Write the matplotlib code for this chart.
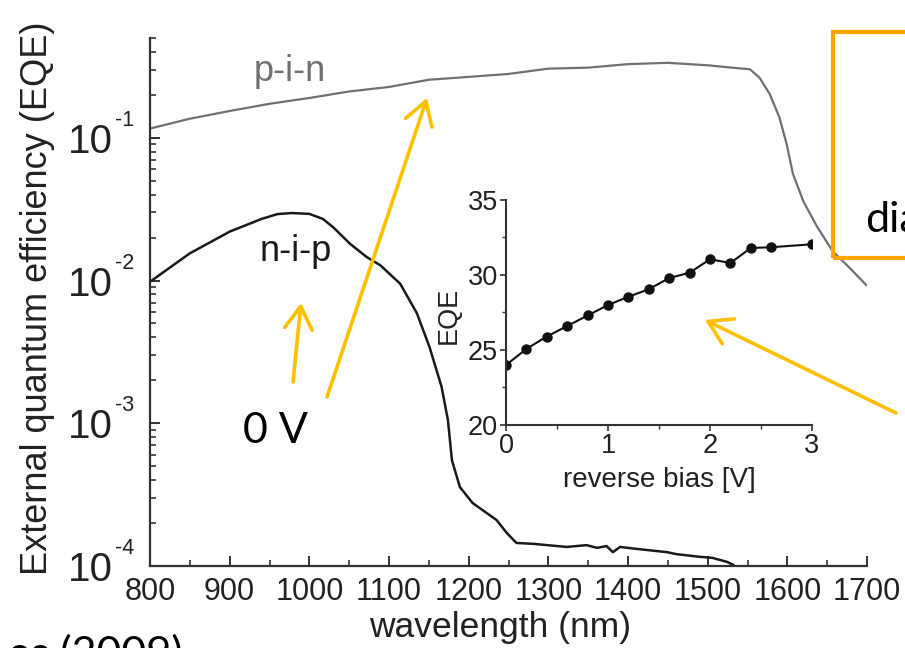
import numpy as np
import matplotlib
matplotlib.use('Agg')
import matplotlib.pyplot as plt
from matplotlib.patches import Rectangle, FancyArrowPatch
from matplotlib.ticker import LogLocator, NullFormatter, MultipleLocator, FixedLocator

# ---------------- data ----------------
pin_nm = [800, 850, 900, 950, 1000, 1050, 1100, 1150, 1200, 1250, 1300, 1350, 1400,
          1450, 1500, 1530, 1553, 1565, 1578, 1590, 1599, 1607, 1620, 1637, 1657, 1678, 1699]
pin_eqe = [0.116, 0.136, 0.154, 0.173, 0.19, 0.211, 0.227, 0.255, 0.267, 0.28, 0.305,
           0.31, 0.328, 0.335, 0.322, 0.31, 0.302, 0.264, 0.202, 0.139, 0.091, 0.056, 0.036,
           0.024, 0.016, 0.0123, 0.0093]

nip_nm = [800, 850, 900, 940, 960, 978, 1000, 1017, 1030, 1051, 1072, 1089, 1114, 1135,
          1151, 1166, 1174, 1179, 1189, 1205, 1235, 1248, 1260, 1281, 1323, 1348, 1361,
          1373, 1381, 1390, 1415, 1449, 1461, 1490, 1506, 1524, 1532]
nip_eqe = [0.0098, 0.0155, 0.022, 0.027, 0.0292, 0.0297, 0.0293, 0.027, 0.0236, 0.0181,
           0.0146, 0.0128, 0.0095, 0.0059, 0.0034, 0.0018, 0.00105, 0.00055, 0.000357,
           0.000276, 0.00021, 0.00017, 0.000145, 0.000143, 0.000136, 0.00014, 0.000134,
           0.000138, 0.000125, 0.000136, 0.000131, 0.000125, 0.000121, 0.000116, 0.000114,
           0.000107, 0.000102]

bias_v = [0.0, 0.2, 0.4, 0.6, 0.8, 1.0, 1.2, 1.4, 1.6, 1.8, 2.0, 2.2, 2.4, 2.6, 3.0]
bias_eqe = [24.0, 25.07, 25.9, 26.6, 27.3, 28.0, 28.55, 29.05, 29.8, 30.15, 31.05, 30.8,
            31.8, 31.85, 32.05]

x_ticks = [800, 900, 1000, 1100, 1200, 1300, 1400, 1500, 1600, 1700]
y_exps = [-4, -3, -2, -1]
inset_xticks = [0, 1, 2, 3]
inset_yticks = [20, 25, 30, 35]

# ---------------- figure ----------------
W, H = 905, 648
plt.rcParams['font.family'] = ['Liberation Sans', 'DejaVu Sans']
fig = plt.figure(figsize=(W / 100, H / 100), dpi=100)
fig.patch.set_facecolor('white')

def fx(px):
    return px / W

def fy(py):
    return 1 - py / H

PT = 0.72  # points per pixel at dpi 100
AX_COL = '#333333'
TXT_COL = '#222222'

# main axes
ax = fig.add_axes([fx(150), fy(566), (867 - 150) / W, (566 - 38) / H])
ax.set_xlim(800, 1700)
ax.set_yscale('log')
ax.set_ylim(1e-4, 0.5)
ax.plot(pin_nm, pin_eqe, color='#707070', lw=1.6)
ax.plot(nip_nm, nip_eqe, color='#1a1a1a', lw=1.8)

for s in ['top', 'right']:
    ax.spines[s].set_visible(False)
for s in ['left', 'bottom']:
    ax.spines[s].set_color(AX_COL)
    ax.spines[s].set_linewidth(1.6)

ax.set_xticks(x_ticks)
ax.xaxis.set_minor_locator(MultipleLocator(50))
ax.yaxis.set_major_locator(FixedLocator([10.0 ** e for e in y_exps]))
ax.yaxis.set_minor_locator(LogLocator(base=10, subs=np.arange(2, 10)))
ax.yaxis.set_major_formatter(NullFormatter())
ax.yaxis.set_minor_formatter(NullFormatter())
ax.tick_params(which='major', direction='in', length=7.5, width=1.4, color=AX_COL)
ax.tick_params(which='minor', direction='in', length=4.5, width=1.2, color=AX_COL)
ax.tick_params(axis='x', which='major', labelsize=22, pad=8, labelcolor=TXT_COL)

for e in y_exps:
    ax.annotate('10', xy=(0, 10.0 ** e), xycoords=('axes fraction', 'data'),
                xytext=(-37 * PT, -15 * PT), textcoords='offset points',
                ha='right', va='baseline', fontsize=29, color=TXT_COL)
    ax.annotate('-%d' % (-e), xy=(0, 10.0 ** e), xycoords=('axes fraction', 'data'),
                xytext=(-16 * PT, 12 * PT), textcoords='offset points',
                ha='right', va='baseline', fontsize=15.5, color=TXT_COL)

ax.set_xlabel('wavelength (nm)', fontsize=25.5, color=TXT_COL, va='center')
ax.xaxis.set_label_coords((500 - 150) / 717, -(627 - 566) / 528)
ax.set_ylabel('External quantum efficiency (EQE)', fontsize=26, color=TXT_COL, va='center')
ax.yaxis.set_label_coords((38 - 150) / 717, 0.5 + (302 - 298) / 528)

ax.text(975.7, 0.25, 'p-i-n', fontsize=26, color='#707070', ha='center', va='baseline')
ax.text(982.4, 0.0138, 'n-i-p', fontsize=26, color='#1a1a1a', ha='center', va='baseline')

# inset axes
ax2 = fig.add_axes([fx(506), fy(425), (812 - 506) / W, (425 - 200) / H])
ax2.patch.set_alpha(0)
ax2.plot(bias_v, bias_eqe, '-o', color='#111111', lw=1.5, ms=6.5)
ax2.set_xlim(0, 3)
ax2.set_ylim(20, 35)
for s in ['top', 'right']:
    ax2.spines[s].set_visible(False)
for s in ['left', 'bottom']:
    ax2.spines[s].set_color(AX_COL)
    ax2.spines[s].set_linewidth(1.5)
ax2.set_xticks(inset_xticks)
ax2.set_yticks(inset_yticks)
ax2.xaxis.set_minor_locator(MultipleLocator(0.5))
ax2.yaxis.set_minor_locator(MultipleLocator(2.5))
ax2.tick_params(which='major', direction='out', length=4.5, width=1.2, color=AX_COL,
                labelsize=19.5, labelcolor=TXT_COL, pad=1.5)
ax2.tick_params(which='minor', direction='out', length=3, width=1.0, color=AX_COL)
ax2.set_xlabel('reverse bias [V]', fontsize=20, color=TXT_COL, va='center')
ax2.xaxis.set_label_coords(0.5, -(480 - 425) / 225)
ax2.set_ylabel('EQE', fontsize=19.5, color=TXT_COL, va='center')
ax2.yaxis.set_label_coords((449 - 506) / 306, 0.5 - (315 - 312.5) / 225)

# overlay annotations (slide elements)
ARROW_COL = '#FFC000'

def arrow(tail, head):
    fig.add_artist(FancyArrowPatch(
        (fx(tail[0]), fy(tail[1])), (fx(head[0]), fy(head[1])),
        transform=fig.transFigure, arrowstyle='->,head_length=0.65,head_width=0.4',
        mutation_scale=25, color=ARROW_COL, lw=2.6, capstyle='round',
        joinstyle='round', shrinkA=0, shrinkB=0))

arrow((293, 382), (301, 303))
arrow((327, 397), (427, 98))
arrow((896, 413), (705, 320))

fig.text(fx(243), fy(443), '0 V', fontsize=31, family=['Lato', 'DejaVu Sans'],
         color='black', ha='left', va='baseline')

box = Rectangle((fx(833), fy(258)), fx(960) - fx(833), fy(32) - fy(258),
                transform=fig.transFigure, fill=False, edgecolor='#FFA500', lw=3,
                clip_on=False)
fig.add_artist(box)
# texts that run off the edge of the slide crop in the reference
fig.text(fx(865), fy(232), 'dia', fontsize=31, family=['Lato', 'DejaVu Sans'],
         color='black', ha='left', va='baseline')
fig.text(fx(8), fy(667), 'es (2009)', fontsize=31, family=['Lato', 'DejaVu Sans'],
         color='black', ha='left', va='baseline')

fig.savefig('out.png', dpi=100, facecolor='white')
